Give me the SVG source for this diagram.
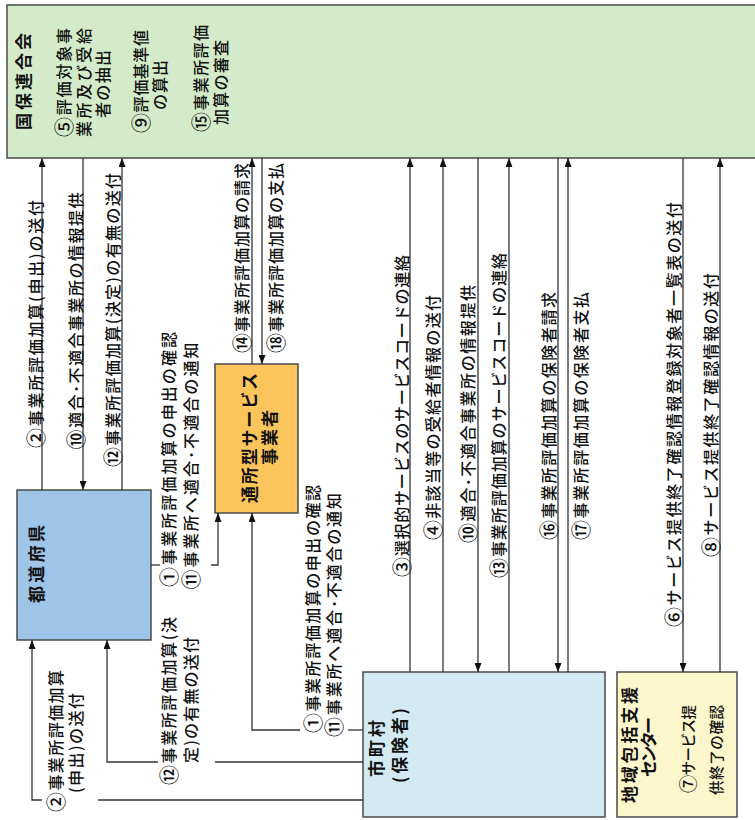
<svg xmlns="http://www.w3.org/2000/svg" width="755" height="820" viewBox="0 0 755 820">
<defs>
<marker id="ah" markerWidth="9" markerHeight="7" viewBox="0 0 9 7" refX="9" refY="3.5" orient="auto" markerUnits="userSpaceOnUse">
<path d="M0,0 L9,3.5 L0,7 z" fill="#111"/>
</marker>
<style>
.box{stroke:#4a4a4a;stroke-width:1.5}
.ln{fill:none;stroke:#333;stroke-width:1.3}
.arr{marker-end:url(#ah)}
text{font-family:"Noto Sans CJK JP","Noto Sans CJK SC",sans-serif;fill:#111;text-anchor:middle;dominant-baseline:central}
.lbl{font-size:16px;font-weight:500}
.sm{font-size:14.5px;font-weight:500}
.ttl{font-size:17px;font-weight:bold}
.n{font-size:1.25em}
</style>
</defs>
<rect width="755" height="820" fill="#fff"/>

<g id="kokuho">
<rect class="box" x="7" y="5" width="760" height="153" fill="#d4ebc9"/>
<text class="ttl" transform="translate(22,81.5) rotate(-90)" textLength="97" lengthAdjust="spacing">国保連合会</text>
<text class="lbl" transform="translate(63,82.5) rotate(-90)" textLength="109" lengthAdjust="spacing"><tspan class="n">⑤</tspan>評価対象事</text>
<text class="lbl" transform="translate(83,82.5) rotate(-90)" textLength="109" lengthAdjust="spacing">業所及び受給</text>
<text class="lbl" transform="translate(102,84) rotate(-90)" textLength="68" lengthAdjust="spacing">者の抽出</text>
<text class="lbl" transform="translate(140,81.5) rotate(-90)" textLength="103" lengthAdjust="spacing"><tspan class="n">⑨</tspan>評価基準値</text>
<text class="lbl" transform="translate(159,85) rotate(-90)" textLength="50" lengthAdjust="spacing">の算出</text>
<text class="lbl" transform="translate(200,78.5) rotate(-90)" textLength="107" lengthAdjust="spacing"><tspan class="n">⑮</tspan>事業所評価</text>
<text class="lbl" transform="translate(220,82.5) rotate(-90)" textLength="85" lengthAdjust="spacing">加算の審査</text>
</g>

<g id="todofuken">
<rect class="box" x="17" y="490" width="134" height="150" fill="#9ec4e8"/>
<text class="ttl" transform="translate(35,564) rotate(-90)" textLength="78" lengthAdjust="spacing">都道府県</text>
</g>

<g id="tsusho">
<rect class="box" x="215" y="364" width="83" height="149" fill="#fbc55c"/>
<text class="ttl" transform="translate(248,438) rotate(-90)" textLength="130" lengthAdjust="spacing">通所型サービス</text>
<text class="ttl" transform="translate(268,437.5) rotate(-90)" textLength="55" lengthAdjust="spacing">事業者</text>
</g>

<g id="shichoson">
<rect class="box" x="363" y="672" width="242" height="145" fill="#d3eaf3"/>
<text class="ttl" transform="translate(375,748.5) rotate(-90)" textLength="57" lengthAdjust="spacing">市町村</text>
<text class="ttl" transform="translate(398,745.5) rotate(-90)" textLength="75" lengthAdjust="spacing">(保険者)</text>
</g>

<g id="chiiki">
<rect class="box" x="617" y="672" width="120" height="145" fill="#fcf6cd"/>
<text class="ttl" transform="translate(628,745) rotate(-90)" textLength="116" lengthAdjust="spacing">地域包括支援</text>
<text class="ttl" transform="translate(647,747) rotate(-90)" textLength="60" lengthAdjust="spacing">センター</text>
<text class="sm" transform="translate(687,749) rotate(-90)" textLength="88" lengthAdjust="spacing"><tspan class="n">⑦</tspan>サービス提</text>
<text class="sm" transform="translate(715,750) rotate(-90)" textLength="90" lengthAdjust="spacing">供終了の確認</text>
</g>

<g id="connectors">
<g id="c02a">
<path class="ln arr" d="M42,490 V158"/>
<text class="lbl" transform="translate(35,324) rotate(-90)" textLength="248" lengthAdjust="spacing"><tspan class="n">②</tspan>事業所評価加算(申出)の送付</text>
</g>
<g id="c10a">
<path class="ln arr" d="M83,158 V490"/>
<text class="lbl" transform="translate(75,321) rotate(-90)" textLength="257" lengthAdjust="spacing"><tspan class="n">⑩</tspan>適合･不適合事業所の情報提供</text>
</g>
<g id="c12a">
<path class="ln arr" d="M122,490 V158"/>
<text class="lbl" transform="translate(112,320) rotate(-90)" textLength="294" lengthAdjust="spacing"><tspan class="n">⑫</tspan>事業所評価加算(決定)の有無の送付</text>
</g>
<g id="c14">
<path class="ln arr" d="M252,364 V158"/>
<text class="lbl" transform="translate(241,258) rotate(-90)" textLength="190" lengthAdjust="spacing"><tspan class="n">⑭</tspan>事業所評価加算の請求</text>
</g>
<g id="c18">
<path class="ln arr" d="M262,158 V364"/>
<text class="lbl" transform="translate(275,258) rotate(-90)" textLength="190" lengthAdjust="spacing"><tspan class="n">⑱</tspan>事業所評価加算の支払</text>
</g>
<g id="c01a">
<path class="ln" d="M151,565 H160"/>
<path class="ln arr" d="M211,565 H218 V513"/>
<text class="lbl" transform="translate(168,459.5) rotate(-90)" textLength="255" lengthAdjust="spacing"><tspan class="n">①</tspan>事業所評価加算の申出の確認</text>
<text class="lbl" transform="translate(190,466) rotate(-90)" textLength="247" lengthAdjust="spacing"><tspan class="n">⑪</tspan>事業所へ適合･不適合の通知</text>
</g>
<g id="c01b">
<path class="ln" d="M363,730 H348"/>
<path class="ln arr" d="M300,730 H252 V513"/>
<text class="lbl" transform="translate(312,609) rotate(-90)" textLength="248" lengthAdjust="spacing"><tspan class="n">①</tspan>事業所評価加算の申出の確認</text>
<text class="lbl" transform="translate(333,615) rotate(-90)" textLength="244" lengthAdjust="spacing"><tspan class="n">⑪</tspan>事業所へ適合･不適合の通知</text>
</g>
<g id="c12b">
<path class="ln" d="M363,762 H215"/>
<path class="ln arr" d="M158,762 H107 V640"/>
<text class="lbl" transform="translate(168,701) rotate(-90)" textLength="168" lengthAdjust="spacing"><tspan class="n">⑫</tspan>事業所評価加算(決</text>
<text class="lbl" transform="translate(190,700) rotate(-90)" textLength="126" lengthAdjust="spacing">定)の有無の送付</text>
</g>
<g id="c02b">
<path class="ln" d="M363,800 H98"/>
<path class="ln arr" d="M42,800 H32 V640"/>
<text class="lbl" transform="translate(55,741) rotate(-90)" textLength="142" lengthAdjust="spacing"><tspan class="n">②</tspan>事業所評価加算</text>
<text class="lbl" transform="translate(75,743) rotate(-90)" textLength="100" lengthAdjust="spacing">(申出)の送付</text>
</g>
<g id="c03">
<path class="ln arr" d="M410,672 V158"/>
<text class="lbl" transform="translate(401,416) rotate(-90)" textLength="322" lengthAdjust="spacing"><tspan class="n">③</tspan>選択的サービスのサービスコードの連絡</text>
</g>
<g id="c04">
<path class="ln arr" d="M443,672 V158"/>
<text class="lbl" transform="translate(432,417.5) rotate(-90)" textLength="245" lengthAdjust="spacing"><tspan class="n">④</tspan>非該当等の受給者情報の送付</text>
</g>
<g id="c10b">
<path class="ln arr" d="M478,158 V672"/>
<text class="lbl" transform="translate(467,414) rotate(-90)" textLength="258" lengthAdjust="spacing"><tspan class="n">⑩</tspan>適合･不適合事業所の情報提供</text>
</g>
<g id="c13">
<path class="ln arr" d="M509,672 V158"/>
<text class="lbl" transform="translate(498,415.5) rotate(-90)" textLength="325" lengthAdjust="spacing"><tspan class="n">⑬</tspan>事業所評価加算のサービスコードの連絡</text>
</g>
<g id="c16">
<path class="ln arr" d="M558,158 V672"/>
<text class="lbl" transform="translate(548,416) rotate(-90)" textLength="248" lengthAdjust="spacing"><tspan class="n">⑯</tspan>事業所評価加算の保険者請求</text>
</g>
<g id="c17">
<path class="ln arr" d="M568,672 V158"/>
<text class="lbl" transform="translate(580,416) rotate(-90)" textLength="248" lengthAdjust="spacing"><tspan class="n">⑰</tspan>事業所評価加算の保険者支払</text>
</g>
<g id="c06">
<path class="ln arr" d="M683,158 V672"/>
<text class="lbl" transform="translate(673,414.5) rotate(-90)" textLength="425" lengthAdjust="spacing"><tspan class="n">⑥</tspan>サービス提供終了確認情報登録対象者一覧表の送付</text>
</g>
<g id="c08">
<path class="ln arr" d="M720,672 V158"/>
<text class="lbl" transform="translate(710,415) rotate(-90)" textLength="284" lengthAdjust="spacing"><tspan class="n">⑧</tspan>サービス提供終了確認情報の送付</text>
</g>
</g>
</svg>
